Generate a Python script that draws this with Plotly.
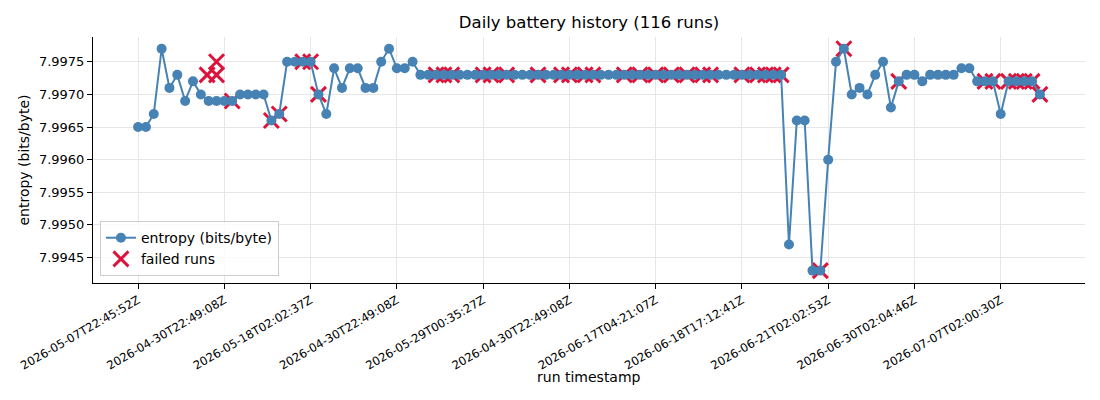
import plotly.graph_objects as go

# ---------------- data ----------------
entropy = [
    7.9965, 7.9965, 7.9967, 7.9977, 7.9971, 7.9973, 7.9969, 7.9972, 7.9970, 7.9969,
    7.9969, 7.9969, 7.9969, 7.9970, 7.9970, 7.9970, 7.9970, 7.9966, 7.9967, 7.9975,
    7.9975, 7.9975, 7.9975, 7.9970, 7.9967, 7.9974, 7.9971, 7.9974, 7.9974, 7.9971,
    7.9971, 7.9975, 7.9977, 7.9974, 7.9974, 7.9975, 7.9973, 7.9973, 7.9973, 7.9973,
    7.9973, 7.9973, 7.9973, 7.9973, 7.9973, 7.9973, 7.9973, 7.9973, 7.9973, 7.9973,
    7.9973, 7.9973, 7.9973, 7.9973, 7.9973, 7.9973, 7.9973, 7.9973, 7.9973, 7.9973,
    7.9973, 7.9973, 7.9973, 7.9973, 7.9973, 7.9973, 7.9973, 7.9973, 7.9973, 7.9973,
    7.9973, 7.9973, 7.9973, 7.9973, 7.9973, 7.9973, 7.9973, 7.9973, 7.9973, 7.9973,
    7.9973, 7.9973, 7.9973, 7.9947, 7.9966, 7.9966, 7.9943, 7.9943, 7.9960, 7.9975,
    7.9977, 7.9970, 7.9971, 7.9970, 7.9973, 7.9975, 7.9968, 7.9972, 7.9973, 7.9973,
    7.9972, 7.9973, 7.9973, 7.9973, 7.9973, 7.9974, 7.9974, 7.9972, 7.9972, 7.9972,
    7.9967, 7.9972, 7.9972, 7.9972, 7.9972, 7.9970,
]
run_index = list(range(len(entropy)))

# runs flagged as failed (index into the run list)
failed_runs = [12, 17, 18, 21, 22, 23, 38, 39, 40, 44, 45, 47, 51, 54, 55, 57, 58,
               62, 64, 66, 68, 70, 72, 73, 77, 79, 80, 81, 82, 87, 90, 97, 108, 109,
               111, 112, 113, 114, 115]
# failed runs whose recorded entropy differs from the plotted series
failed_extra_x = [8.8, 10, 10]
failed_extra_y = [7.9973, 7.9975, 7.9973]

tick_positions = [0, 11, 22, 33, 44, 55, 66, 77, 88, 99, 110]
tick_labels = [
    "2026-05-07T22:45:52Z", "2026-04-30T22:49:08Z", "2026-05-18T02:02:37Z",
    "2026-04-30T22:49:08Z", "2026-05-29T00:35:27Z", "2026-04-30T22:49:08Z",
    "2026-06-17T04:21:07Z", "2026-06-18T17:12:41Z", "2026-06-21T02:02:53Z",
    "2026-06-30T02:04:46Z", "2026-07-07T02:00:30Z",
]
y_ticks = [7.9945, 7.9950, 7.9955, 7.9960, 7.9965, 7.9970, 7.9975]

failed_x = [run_index[i] for i in failed_runs] + failed_extra_x
failed_y = [entropy[i] for i in failed_runs] + failed_extra_y

# ---------------- figure ----------------
FONT = "DejaVu Sans"
fig = go.Figure()

fig.add_trace(go.Scatter(
    x=failed_x, y=failed_y, mode="markers", name="failed runs",
    marker=dict(symbol="x-thin", size=15, color="#dc143c",
                line=dict(color="#dc143c", width=3)),
    legendrank=2,
))
fig.add_trace(go.Scatter(
    x=run_index, y=entropy, mode="lines+markers", name="entropy (bits/byte)",
    line=dict(color="#4682b4", width=2),
    marker=dict(size=10, color="#4682b4"),
    legendrank=1,
))

fig.update_layout(
    width=1100, height=400,
    margin=dict(l=85, r=23, t=29, b=125, autoexpand=False),
    paper_bgcolor="white", plot_bgcolor="white",
    font=dict(family=FONT, color="black", size=13),
    title=dict(text="Daily battery history (116 runs)", x=0.5, xanchor="center",
               xref="paper", y=1 - 14 / 400, yanchor="middle",
               font=dict(size=16.5, family=FONT)),
    showlegend=True,
    legend=dict(x=0.007, y=0.028, xanchor="left", yanchor="bottom",
                bgcolor="rgba(255,255,255,0.8)", bordercolor="#cccccc", borderwidth=1,
                font=dict(size=14, family=FONT), tracegroupgap=0),
    annotations=[dict(text="run timestamp", xref="paper", yref="paper",
                      x=0.5, y=-94 / 246, xanchor="center", yanchor="middle",
                      showarrow=False, font=dict(size=14, family=FONT))],
)

fig.update_xaxes(
    range=[-5.75, 120.75],
    tickmode="array", tickvals=tick_positions, ticktext=tick_labels,
    tickangle=-30, tickfont=dict(size=11.7, family=FONT),
    ticks="outside", ticklen=5, tickcolor="black",
    showline=True, linecolor="black", linewidth=1, mirror=False,
    showgrid=True, gridcolor="#e6e6e6", gridwidth=1, zeroline=False,
)
fig.update_yaxes(
    range=[7.99411, 7.99788],
    tickmode="array", tickvals=y_ticks, ticktext=[f"{v:.4f}" for v in y_ticks],
    tickfont=dict(size=13, family=FONT),
    ticks="outside", ticklen=5, tickcolor="black",
    showline=True, linecolor="black", linewidth=1, mirror=False,
    showgrid=True, gridcolor="#e6e6e6", gridwidth=1, zeroline=False,
    title=dict(text="entropy (bits/byte)", font=dict(size=14, family=FONT), standoff=6),
)

fig.write_html("out.html")
